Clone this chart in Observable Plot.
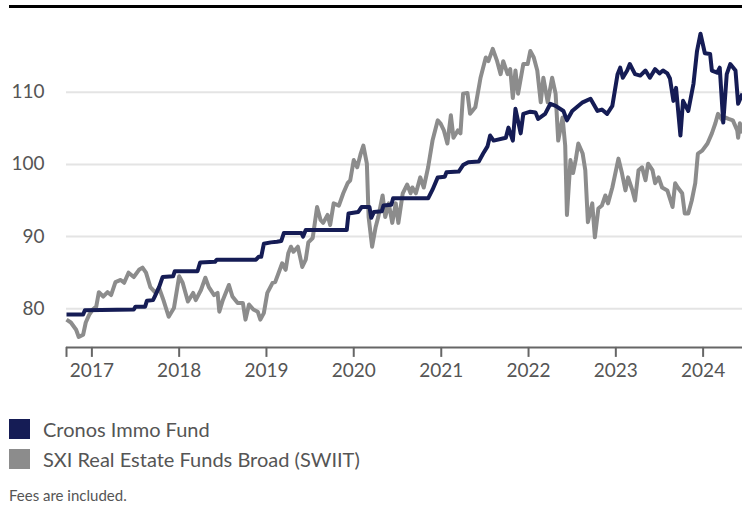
<!DOCTYPE html>
<html><head><meta charset="utf-8">
<script src="https://cdn.jsdelivr.net/npm/d3@7"></script>
<script src="https://cdn.jsdelivr.net/npm/@observablehq/plot@0.6"></script>
<style>
body{margin:0;background:#fff;font-family:Lato,"Open Sans",sans-serif;}
#wrap{position:relative;width:742px;height:507px;overflow:hidden;background:#fff;}
#topline{position:absolute;left:9px;top:5px;width:733px;height:3px;background:#000;}
#chart{position:absolute;left:0;top:0;}
#legend{position:absolute;left:9px;top:414px;}
.row{display:flex;align-items:center;height:30px;}
.sw{width:21px;height:20px;margin-right:13px;}
.lab{font-size:20px;color:#555;}
#caption{position:absolute;left:9px;top:487px;font-size:15px;line-height:17px;color:#555;}
</style></head>
<body>
<div id="wrap">
<div id="chart"></div>
<div id="topline"></div>
<div id="legend">
  <div class="row"><div class="sw" style="background:#151c55"></div><div class="lab">Cronos Immo Fund</div></div>
  <div class="row"><div class="sw" style="background:#8c8c8c"></div><div class="lab">SXI Real Estate Funds Broad (SWIIT)</div></div>
</div>
<div id="caption">Fees are included.</div>
</div>
<script>
const seriesNames = ["Cronos Immo Fund", "SXI Real Estate Funds Broad (SWIIT)"];
const seriesColors = ["#151c55", "#8c8c8c"];
const yTicks = [80, 90, 100, 110];
const xTickYears = [2017, 2018, 2019, 2020, 2021, 2022, 2023, 2024];
const xDomainYears = [2016.71, 2024.45];

// Cronos Immo Fund (decimal year, indexed value)
const cronosYear = [2016.71,2016.90,2016.92,2017.48,2017.50,2017.61,2017.63,2017.70,2017.72,2017.77,2017.81,2017.93,2017.95,2018.21,2018.24,2018.41,2018.43,2018.88,2018.91,2018.94,2018.97,2019.05,2019.12,2019.17,2019.20,2019.40,2019.42,2019.45,2019.92,2019.94,2020.05,2020.09,2020.18,2020.20,2020.23,2020.32,2020.34,2020.43,2020.45,2020.85,2020.90,2020.96,2021.04,2021.06,2021.20,2021.25,2021.31,2021.43,2021.48,2021.53,2021.56,2021.60,2021.74,2021.77,2021.82,2021.85,2021.91,2021.94,2022.02,2022.08,2022.11,2022.19,2022.25,2022.31,2022.40,2022.44,2022.50,2022.62,2022.71,2022.79,2022.84,2022.90,2022.96,2023.02,2023.05,2023.08,2023.13,2023.16,2023.22,2023.28,2023.34,2023.39,2023.45,2023.50,2023.54,2023.59,2023.62,2023.66,2023.69,2023.74,2023.77,2023.83,2023.89,2023.93,2023.97,2024.02,2024.08,2024.10,2024.16,2024.19,2024.23,2024.27,2024.31,2024.37,2024.40,2024.45];
const cronosValue = [79.2,79.2,79.8,79.9,80.3,80.3,81.1,81.2,81.7,83.0,84.4,84.5,85.2,85.2,86.4,86.5,86.8,86.8,87.2,87.2,89.0,89.2,89.3,89.4,90.5,90.5,90.0,90.9,90.9,93.2,93.4,94.1,94.1,92.6,93.4,93.5,94.3,94.4,95.3,95.3,96.5,98.2,98.3,98.9,99.0,99.9,100.3,100.4,101.5,102.5,104.0,103.3,103.7,105.1,103.3,107.7,104.3,107.0,107.3,107.2,106.3,107.0,108.4,108.1,107.4,106.1,107.4,108.6,109.1,107.4,107.6,107.0,108.1,112.5,113.4,112.0,113.0,113.9,112.5,112.3,113.0,112.0,113.2,112.6,113.0,112.6,111.9,108.8,110.6,104.0,108.8,107.4,111.2,115.7,118.1,115.4,115.3,113.0,112.7,113.4,105.8,112.5,113.9,113.0,108.4,109.8];

// SXI Real Estate Funds Broad (SWIIT)
const swiitYear = [2016.71,2016.76,2016.82,2016.85,2016.90,2016.93,2016.97,2017.01,2017.05,2017.08,2017.13,2017.18,2017.22,2017.27,2017.33,2017.37,2017.42,2017.48,2017.54,2017.58,2017.62,2017.67,2017.73,2017.77,2017.82,2017.88,2017.94,2018.00,2018.04,2018.10,2018.16,2018.19,2018.25,2018.30,2018.34,2018.40,2018.44,2018.46,2018.50,2018.57,2018.61,2018.67,2018.73,2018.76,2018.80,2018.85,2018.90,2018.93,2018.97,2019.01,2019.07,2019.10,2019.14,2019.18,2019.22,2019.25,2019.28,2019.31,2019.36,2019.41,2019.45,2019.48,2019.53,2019.58,2019.62,2019.65,2019.70,2019.73,2019.77,2019.83,2019.88,2019.93,2019.96,2020.00,2020.04,2020.08,2020.11,2020.15,2020.17,2020.21,2020.25,2020.28,2020.33,2020.36,2020.40,2020.44,2020.48,2020.51,2020.56,2020.61,2020.65,2020.67,2020.71,2020.76,2020.80,2020.85,2020.90,2020.96,2020.99,2021.03,2021.07,2021.11,2021.14,2021.19,2021.22,2021.25,2021.30,2021.33,2021.39,2021.45,2021.51,2021.54,2021.59,2021.64,2021.68,2021.71,2021.76,2021.79,2021.82,2021.85,2021.88,2021.94,2021.99,2022.02,2022.06,2022.10,2022.14,2022.17,2022.22,2022.27,2022.31,2022.34,2022.39,2022.42,2022.44,2022.48,2022.51,2022.54,2022.57,2022.62,2022.65,2022.68,2022.73,2022.76,2022.80,2022.84,2022.88,2022.91,2022.96,2023.03,2023.07,2023.11,2023.14,2023.19,2023.22,2023.26,2023.30,2023.34,2023.37,2023.42,2023.45,2023.49,2023.53,2023.59,2023.65,2023.68,2023.71,2023.76,2023.79,2023.83,2023.87,2023.91,2023.94,2023.99,2024.05,2024.10,2024.14,2024.17,2024.22,2024.25,2024.29,2024.34,2024.39,2024.40,2024.42,2024.45];
const swiitValue = [78.5,78.1,77.1,76.1,76.4,78.1,79.2,79.9,80.3,82.3,81.7,82.3,81.9,83.7,84.0,83.6,85.0,84.4,85.4,85.7,85.0,83.0,82.2,82.9,81.2,78.9,80.1,84.5,83.6,81.0,82.2,81.2,82.6,84.3,83.0,81.9,82.2,79.6,81.2,83.3,81.7,80.8,80.8,78.5,80.6,79.9,79.6,78.5,79.4,82.2,83.6,83.7,85.0,86.3,85.4,87.7,88.6,87.9,88.6,85.8,86.8,89.2,89.8,94.1,92.3,91.9,93.0,91.6,94.6,94.3,96.0,97.4,97.8,100.6,99.6,101.5,102.6,100.1,92.7,88.6,91.3,92.7,95.7,92.7,94.6,91.9,94.6,91.9,96.0,97.2,96.0,96.8,96.0,98.2,96.8,99.6,103.3,106.1,105.7,104.7,102.9,106.8,103.7,104.7,104.3,109.8,109.9,107.0,107.9,112.0,114.8,114.3,116.0,114.3,112.5,114.3,112.5,113.2,109.2,113.0,109.8,113.9,113.9,115.7,114.8,113.0,108.6,112.0,108.6,112.0,109.8,103.3,106.5,102.6,93.0,100.6,98.8,100.6,102.9,101.5,99.2,92.0,94.6,89.9,93.9,94.3,95.7,94.6,96.8,100.8,98.8,96.4,98.2,96.4,95.0,99.2,99.6,97.8,100.1,99.2,97.4,98.2,96.8,96.4,94.1,97.4,96.8,96.0,93.2,93.2,95.0,97.4,101.5,101.9,102.9,104.3,105.7,107.0,106.1,106.5,106.3,106.1,104.7,103.7,105.7,104.3];

function toDate(yf) {
  const y = Math.floor(yf);
  const start = Date.UTC(y, 0, 1), end = Date.UTC(y + 1, 0, 1);
  return new Date(start + (yf - y) * (end - start));
}
const cronos = cronosYear.map((t, i) => ({date: toDate(t), value: cronosValue[i]}));
const swiit = swiitYear.map((t, i) => ({date: toDate(t), value: swiitValue[i]}));
const xStart = toDate(xDomainYears[0]);
const xTicks = [xStart, ...xTickYears.map(y => new Date(Date.UTC(y, 0, 1)))];

const chart = Plot.plot({
  width: 742,
  height: 390,
  marginLeft: 66,
  marginRight: 0,
  marginTop: 19.5,
  marginBottom: 45.6,
  x: {type: "utc", domain: [xStart, toDate(xDomainYears[1])], label: null},
  y: {domain: [75, 120], label: null},
  style: {fontFamily: "Lato, 'Open Sans', sans-serif", fontSize: "19px", color: "#555", background: "transparent"},
  marks: [
    Plot.gridY(yTicks, {stroke: "#e4e4e4", strokeOpacity: 1, strokeWidth: 2}),
    Plot.line(swiit, {x: "date", y: "value", stroke: seriesColors[1], strokeWidth: 4, strokeLinejoin: "round", strokeLinecap: "butt"}),
    Plot.line(cronos, {x: "date", y: "value", stroke: seriesColors[0], strokeWidth: 4, strokeLinejoin: "round", strokeLinecap: "butt"}),
    Plot.ruleY([75], {stroke: "#666", strokeWidth: 2, dy: 2.5}),
    Plot.axisX(xTicks, {tickSize: 10, tickPadding: 6, strokeWidth: 2, stroke: "#666", dy: 2.5, label: null,
      tickFormat: d => (d.getUTCMonth() === 0 && d.getUTCDate() === 1) ? String(d.getUTCFullYear()) : ""}),
    Plot.axisY(yTicks, {tickSize: 0, tickPadding: 22, label: null})
  ]
});
document.getElementById("chart").appendChild(chart);
</script>
</body></html>
